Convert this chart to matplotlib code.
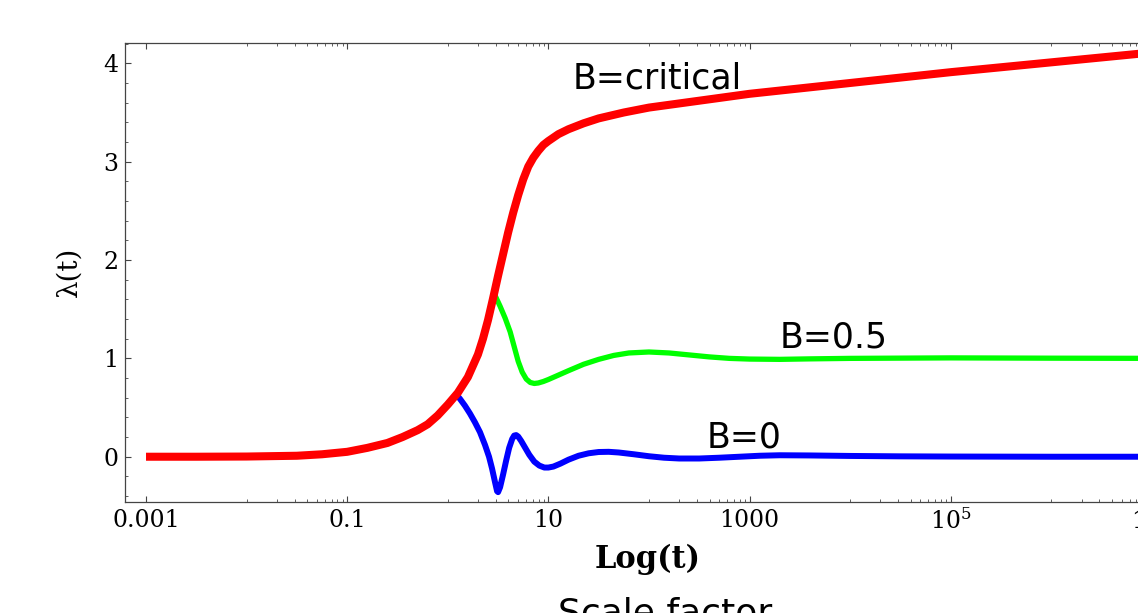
import numpy as np
import matplotlib
matplotlib.use('Agg')
import matplotlib.pyplot as plt
from matplotlib.ticker import FixedLocator, FixedFormatter, MultipleLocator

# values: log10(t) and lambda(t) for each curve
red_logt = [-3.0, -2.5, -2.0, -1.5, -1.25, -1.0, -0.8, -0.6, -0.45, -0.3, -0.2, -0.1,
            0.0, 0.1, 0.2, 0.3, 0.35, 0.4, 0.45, 0.5, 0.55, 0.6, 0.65, 0.7, 0.75,
            0.8, 0.85, 0.9, 0.95, 1.0, 1.1, 1.2, 1.35, 1.5, 1.75, 2.0, 2.5, 3.0,
            4.0, 5.0, 6.0, 7.2]
red_lam = [0.0, 0.0, 0.002, 0.01, 0.025, 0.05, 0.09, 0.14, 0.20, 0.27, 0.33, 0.42,
           0.53, 0.65, 0.81, 1.04, 1.20, 1.39, 1.61, 1.84, 2.06, 2.28, 2.48, 2.66, 2.82,
           2.95, 3.04, 3.11, 3.17, 3.21, 3.28, 3.33, 3.39, 3.44, 3.50, 3.55, 3.62, 3.69,
           3.80, 3.91, 4.01, 4.13]

green_logt = [0.47, 0.52, 0.57, 0.62, 0.66, 0.70, 0.74, 0.78, 0.82, 0.86, 0.90, 0.95,
              1.0, 1.1, 1.2, 1.35, 1.5, 1.65, 1.8, 2.0, 2.2, 2.4, 2.6, 2.8, 3.0,
              3.3, 3.6, 4.0, 5.0, 6.0, 7.2]
green_lam = [1.64, 1.53, 1.41, 1.27, 1.12, 0.97, 0.86, 0.79, 0.755, 0.745, 0.75, 0.765,
             0.785, 0.83, 0.875, 0.94, 0.99, 1.03, 1.055, 1.065, 1.055, 1.035, 1.015, 1.0, 0.993,
             0.99, 0.995, 1.0, 1.005, 1.002, 1.0]

blue_logt = [0.07, 0.12, 0.17, 0.22, 0.27, 0.32, 0.37, 0.41, 0.44, 0.47, 0.49, 0.50,
             0.52, 0.55, 0.58, 0.61, 0.64, 0.66, 0.68, 0.70, 0.73, 0.77, 0.81, 0.86,
             0.91, 0.96, 1.0, 1.05, 1.12, 1.2, 1.3, 1.4, 1.5, 1.6, 1.7, 1.85,
             2.0, 2.15, 2.3, 2.5, 2.7, 2.9, 3.1, 3.3, 3.6, 4.0, 4.5, 5.0, 6.0, 7.2]
blue_lam = [0.65, 0.59, 0.52, 0.44, 0.35, 0.25, 0.12, 0.0, -0.12, -0.26, -0.35, -0.36,
            -0.31, -0.18, -0.04, 0.09, 0.18, 0.215, 0.22, 0.205, 0.16, 0.09, 0.02, -0.05,
            -0.09, -0.11, -0.11, -0.10, -0.07, -0.03, 0.01, 0.035, 0.048, 0.05, 0.043, 0.025,
            0.005, -0.01, -0.018, -0.018, -0.01, 0.0, 0.01, 0.015, 0.013, 0.008, 0.004, 0.002, 0.0, 0.0]

xtick_values = [1e-3, 1e-1, 1e1, 1e3, 1e5, 1e7]
xtick_labels = ['0.001', '0.1', '10', '1000', '$10^5$', '$10^7$']
ytick_values = [0, 1, 2, 3, 4]
curve_labels = ['B=critical', 'B=0.5', 'B=0']


def main():
    plt.rcParams['font.family'] = 'DejaVu Serif'
    plt.rcParams['mathtext.fontset'] = 'dejavuserif'

    fig = plt.figure(figsize=(11.38, 6.13), dpi=100)
    # axes runs past the right edge, like the cropped original
    ax = fig.add_axes([0.1101, 0.1816, 0.9198, 0.7488])

    ax.plot(np.power(10.0, blue_logt), blue_lam, color='#0000ff', lw=4.3,
            solid_capstyle='butt', solid_joinstyle='round', zorder=2)
    ax.plot(np.power(10.0, green_logt), green_lam, color='#00ff00', lw=3.8,
            solid_capstyle='butt', solid_joinstyle='round', zorder=2)
    ax.plot(np.power(10.0, red_logt), red_lam, color='#ff0000', lw=5.8,
            solid_capstyle='butt', solid_joinstyle='round', zorder=3)

    ax.set_xscale('log')
    ax.set_xlim(10 ** -3.206, 10 ** 7.2)
    ax.set_ylim(-0.457, 4.21)

    ax.xaxis.set_major_locator(FixedLocator(xtick_values))
    ax.xaxis.set_major_formatter(FixedFormatter(xtick_labels))
    minors = [m * 10.0 ** k for k in (-2, 0, 2, 4, 6) for m in range(1, 10)]
    ax.xaxis.set_minor_locator(FixedLocator(minors))
    ax.xaxis.set_minor_formatter(FixedFormatter([''] * len(minors)))
    ax.set_yticks(ytick_values)
    ax.yaxis.set_minor_locator(MultipleLocator(0.2))

    ax.tick_params(which='both', direction='in', top=True, right=True,
                   color='#444444', labelsize=17, pad=5)
    ax.tick_params(which='major', length=4.5, width=0.8)
    ax.tick_params(which='minor', length=2.5, width=0.6)
    for s in ax.spines.values():
        s.set_color('#444444')
        s.set_linewidth(0.9)

    ax.set_xlabel('Log(t)', fontsize=22, fontweight='bold', va='center')
    ax.xaxis.set_label_coords(0.4994, -0.1248)
    ax.set_ylabel('λ(t)', fontsize=20, va='center')
    ax.yaxis.set_label_coords(-0.0538, 0.5)

    ax.text(17.6, 3.85, curve_labels[0], family='DejaVu Sans', fontsize=25,
            ha='left', va='center')
    ax.text(2000, 1.217, curve_labels[1], family='DejaVu Sans', fontsize=25,
            ha='left', va='center')
    ax.text(378, 0.20, curve_labels[2], family='DejaVu Sans', fontsize=25,
            ha='left', va='center')

    fig.text(665 / 1138, 17 / 613, 'Scale factor', family='DejaVu Sans',
             fontsize=26, ha='center', va='top')

    fig.savefig('out.png', dpi=100)


if __name__ == '__main__':
    main()
